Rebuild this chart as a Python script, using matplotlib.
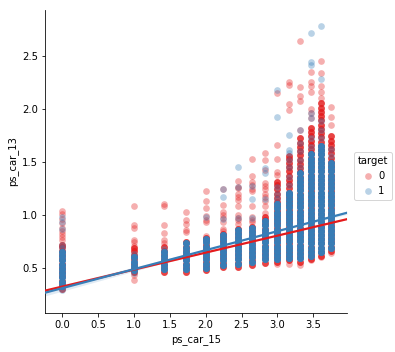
import numpy as np
import pandas as pd
import matplotlib
matplotlib.use("Agg")
import matplotlib.pyplot as plt

OUT_FILE = "out.png"

# distinct ps_car_15 values (one column of points each)
CAR_15 = [0.0, 1.0, 1.414, 1.732, 2.0, 2.236, 2.449, 2.646, 2.828,
          3.0, 3.162, 3.317, 3.464, 3.606, 3.742]

# target 0: dense part of each column (each value stands for many overlapping rows)
RED_CORE = [
    [0.30, 0.34, 0.38, 0.42, 0.46, 0.50, 0.54, 0.58, 0.62, 0.66, 0.70, 0.72],
    [0.46, 0.50, 0.54, 0.58, 0.62, 0.66, 0.69],
    [0.46, 0.50, 0.54, 0.58, 0.62, 0.66, 0.70],
    [0.46, 0.50, 0.54, 0.58, 0.62, 0.66, 0.70, 0.74],
    [0.48, 0.52, 0.56, 0.60, 0.64, 0.68, 0.72, 0.76, 0.78],
    [0.51, 0.55, 0.59, 0.63, 0.67, 0.71, 0.75, 0.79, 0.82],
    [0.51, 0.55, 0.59, 0.63, 0.67, 0.71, 0.75, 0.79, 0.83, 0.87],
    [0.53, 0.57, 0.61, 0.65, 0.69, 0.73, 0.77, 0.81, 0.85, 0.89],
    [0.55, 0.59, 0.63, 0.67, 0.71, 0.75, 0.79, 0.83, 0.87, 0.91, 0.95, 0.98],
    [0.56, 0.60, 0.64, 0.68, 0.72, 0.76, 0.80, 0.84, 0.88, 0.92, 0.96, 1.00,
     1.04, 1.08, 1.12, 1.16, 1.20, 1.24, 1.28, 1.31],
    [0.57, 0.61, 0.65, 0.69, 0.73, 0.77, 0.81, 0.85, 0.89, 0.93, 0.97, 1.01,
     1.05, 1.09, 1.13, 1.17, 1.21, 1.25, 1.29, 1.33, 1.37, 1.41, 1.45, 1.49,
     1.53, 1.55],
    [0.56, 0.60, 0.64, 0.68, 0.72, 0.76, 0.80, 0.84, 0.88, 0.92, 0.96, 1.00,
     1.04, 1.08, 1.12, 1.16, 1.20, 1.24, 1.28, 1.32, 1.36, 1.40, 1.44, 1.48,
     1.52, 1.56, 1.60, 1.64, 1.68, 1.72],
    [0.58, 0.62, 0.66, 0.70, 0.74, 0.78, 0.82, 0.86, 0.90, 0.94, 0.98, 1.02,
     1.06, 1.10, 1.14, 1.18, 1.22, 1.26, 1.30, 1.34, 1.38, 1.42, 1.46, 1.50,
     1.54, 1.58, 1.62, 1.66, 1.70, 1.74, 1.78, 1.82],
    [0.61, 0.65, 0.69, 0.73, 0.77, 0.81, 0.85, 0.89, 0.93, 0.97, 1.01, 1.05,
     1.09, 1.13, 1.17, 1.21, 1.25, 1.29, 1.33, 1.37, 1.41, 1.45, 1.49, 1.53,
     1.57, 1.61, 1.65, 1.69, 1.73, 1.77, 1.81, 1.85, 1.89, 1.93, 1.97, 2.01,
     2.05],
    [0.66, 0.70, 0.74, 0.78, 0.82, 0.86, 0.90, 0.94, 0.98, 1.02, 1.06, 1.10,
     1.14, 1.18, 1.22, 1.26, 1.30, 1.34, 1.38, 1.42, 1.46, 1.50, 1.54, 1.58,
     1.62, 1.66, 1.70, 1.74],
]

# target 0: single outlying rows
RED_SPARSE = [
    [1.04, 1.01, 0.96, 0.92, 0.88, 0.85, 0.82, 0.79, 0.76],
    [1.08, 0.90, 0.88, 0.76, 0.74, 0.71, 0.43, 0.39],
    [1.10, 1.08, 0.90, 0.83, 0.76, 0.73],
    [1.03, 0.95, 0.91, 0.86, 0.84],
    [1.22, 1.13, 1.06, 0.99, 0.95, 0.93, 0.80],
    [1.24, 1.09, 1.03, 1.00, 0.97, 0.93, 0.87, 0.85],
    [1.32, 1.26, 1.25, 1.20, 1.17, 1.14, 1.08, 1.00, 0.97, 0.95, 0.91],
    [1.53, 1.37, 1.31, 1.28, 1.24, 1.22, 1.08, 0.98, 0.95, 0.93],
    [1.58, 1.52, 1.42, 1.30, 1.27, 1.24, 1.20, 1.17, 1.13, 1.08, 1.02],
    [2.15, 1.66, 1.53, 1.40, 1.38, 0.54],
    [2.25, 2.22, 2.04, 1.99, 0.54],
    [2.64, 2.20, 2.12, 2.07, 1.80, 0.53],
    [2.35, 2.25, 2.21, 2.16, 2.00, 1.96, 1.91, 0.57],
    [2.45, 2.34, 2.21, 2.16, 2.10, 0.60],
    [2.02, 1.92, 1.85, 0.64],
]

# target 1: dense part of each column
BLUE_CORE = [
    [0.33, 0.37, 0.41, 0.45, 0.49, 0.53, 0.57, 0.61, 0.65],
    [0.48, 0.52, 0.56, 0.60],
    [0.49, 0.53, 0.57, 0.61, 0.65],
    [0.49, 0.53, 0.57, 0.61, 0.65, 0.69, 0.73],
    [0.50, 0.54, 0.58, 0.62, 0.66, 0.70, 0.74, 0.77],
    [0.53, 0.57, 0.61, 0.65, 0.69, 0.73, 0.77, 0.81],
    [0.54, 0.58, 0.62, 0.66, 0.70, 0.74, 0.78, 0.82, 0.86],
    [0.56, 0.60, 0.64, 0.68, 0.72, 0.76, 0.80, 0.84, 0.88],
    [0.58, 0.62, 0.66, 0.70, 0.74, 0.78, 0.82, 0.86, 0.90, 0.94],
    [0.58, 0.62, 0.66, 0.70, 0.74, 0.78, 0.82, 0.86, 0.90, 0.94, 0.98, 1.02,
     1.06, 1.10],
    [0.59, 0.63, 0.67, 0.71, 0.75, 0.79, 0.83, 0.87, 0.91, 0.95, 0.99, 1.03,
     1.07, 1.11, 1.15, 1.19, 1.21],
    [0.59, 0.63, 0.67, 0.71, 0.75, 0.79, 0.83, 0.87, 0.91, 0.95, 0.99, 1.03,
     1.07, 1.11, 1.15, 1.19, 1.23, 1.27, 1.31, 1.35, 1.39],
    [0.61, 0.65, 0.69, 0.73, 0.77, 0.81, 0.85, 0.89, 0.93, 0.97, 1.01, 1.05,
     1.09, 1.13, 1.17, 1.21, 1.25, 1.29, 1.33, 1.37, 1.41, 1.45, 1.49, 1.53,
     1.57],
    [0.65, 0.69, 0.73, 0.77, 0.81, 0.85, 0.89, 0.93, 0.97, 1.01, 1.05, 1.09,
     1.13, 1.17, 1.21, 1.25, 1.29, 1.33, 1.37, 1.41, 1.45, 1.49, 1.53, 1.57,
     1.61, 1.65],
    [0.69, 0.73, 0.77, 0.81, 0.85, 0.89, 0.93, 0.97, 1.01, 1.05, 1.09, 1.13,
     1.17, 1.21, 1.25, 1.29, 1.33, 1.37, 1.41, 1.45, 1.49],
]

# target 1: single outlying rows
BLUE_SPARSE = [
    [0.29, 0.98, 0.93, 0.87, 0.72, 0.69],
    [0.45, 0.63],
    [0.68],
    [],
    [0.98],
    [1.24, 1.17, 0.96],
    [1.45, 1.26, 0.97],
    [1.27, 1.15, 0.97],
    [1.44, 1.39, 1.15],
    [2.18, 1.92, 1.26, 1.20, 1.15],
    [1.75, 1.61, 1.58, 1.52, 1.45, 1.36, 1.28],
    [1.80, 1.68, 1.60, 1.52, 1.45],
    [2.71, 2.44, 2.41, 1.96, 1.91, 1.72, 1.64],
    [2.78, 2.28, 1.88, 1.80, 1.72],
    [1.62, 1.55],
]

# fitted lines: intercept, slope
FIT_0 = (0.324, 0.160)
FIT_1 = (0.309, 0.179)
# confidence band half widths at left end, narrowest point, right end
CI_X = [-0.24, 2.7, 3.97]
CI_0 = [0.008, 0.002, 0.004]
CI_1 = [0.03, 0.005, 0.015]

# how many overlapping rows one core value stands for
RED_DEPTH = 4
BLUE_DEPTH = 9
RED = "#e41a1c"
BLUE = "#377eb8"


def build_frame():
    rows = []
    groups = [(0, RED_CORE, RED_SPARSE, RED_DEPTH), (1, BLUE_CORE, BLUE_SPARSE, BLUE_DEPTH)]
    for target, core, sparse, depth in groups:
        for x, c, s in zip(CAR_15, core, sparse):
            for y in c:
                rows += [(x, y, target)] * depth
            for y in s:
                rows.append((x, y, target))
    return pd.DataFrame(rows, columns=["ps_car_15", "ps_car_13", "target"])


def main():
    df = build_frame()
    fig = plt.figure(figsize=(395 / 72, 352 / 72), dpi=72)
    ax = fig.add_axes([45 / 395, 39 / 352, 302 / 395, 303 / 352])

    xlim = (-0.24, 3.97)
    handles = []
    for target, color in [(0, RED), (1, BLUE)]:
        sub = df[df["target"] == target]
        h = ax.scatter(sub["ps_car_15"], sub["ps_car_13"], s=45, color=color,
                       alpha=0.35, linewidths=0, zorder=1)
        handles.append(h)

    xs = np.linspace(xlim[0], xlim[1], 100)
    for (b, m), ci, color in [(FIT_0, CI_0, RED), (FIT_1, CI_1, BLUE)]:
        yfit = b + m * xs
        half = np.interp(xs, CI_X, ci)
        ax.fill_between(xs, yfit - half, yfit + half, color=color, alpha=0.15,
                        linewidth=0, zorder=2)
        ax.plot(xs, yfit, color=color, lw=2.2, zorder=3)

    ax.set_xlim(*xlim)
    ax.set_ylim(0.075, 2.93)
    ax.set_xticks([0.0, 0.5, 1.0, 1.5, 2.0, 2.5, 3.0, 3.5])
    ax.set_yticks([0.5, 1.0, 1.5, 2.0, 2.5])
    ax.tick_params(labelsize=10)
    ax.set_xlabel("ps_car_15", fontsize=10)
    ax.set_ylabel("ps_car_13", fontsize=10)
    ax.spines["top"].set_visible(False)
    ax.spines["right"].set_visible(False)

    fig.legend(handles, ["0", "1"], title="target", loc="center left",
               bbox_to_anchor=(349 / 395, 0.5), fontsize=10, title_fontsize=10,
               handletextpad=0.4, borderpad=0.4, handlelength=1.2)

    fig.savefig(OUT_FILE, dpi=72)


if __name__ == "__main__":
    main()
